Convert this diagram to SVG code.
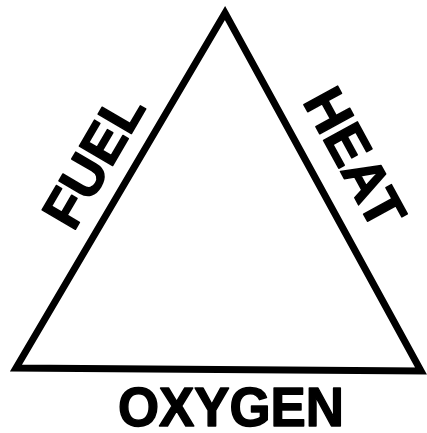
<svg xmlns="http://www.w3.org/2000/svg" width="427" height="433" viewBox="0 0 427 433">
<style>
.lbl{font-family:"Liberation Sans",Arial,sans-serif;font-weight:bold;fill:#000;stroke:#000;stroke-width:1.5;stroke-linejoin:round;text-anchor:middle}
.edge{fill:none;stroke:#000;stroke-width:7;stroke-linejoin:miter;stroke-linecap:square}
</style>
<rect width="427" height="433" fill="#fff"/>
<g id="connectors">
<polygon class="edge" points="225,13 421,371 16,368"/>
</g>
<g id="fuel"><text class="lbl" font-size="56" textLength="145" lengthAdjust="spacingAndGlyphs" transform="translate(110,170) rotate(-59.7)">FUEL</text></g>
<g id="heat"><text class="lbl" font-size="56" textLength="150" lengthAdjust="spacingAndGlyphs" transform="translate(338,167) rotate(61.4)">HEAT</text></g>
<g id="oxygen"><text class="lbl" x="231" y="426" font-size="56" textLength="226" lengthAdjust="spacingAndGlyphs">OXYGEN</text></g>
</svg>
